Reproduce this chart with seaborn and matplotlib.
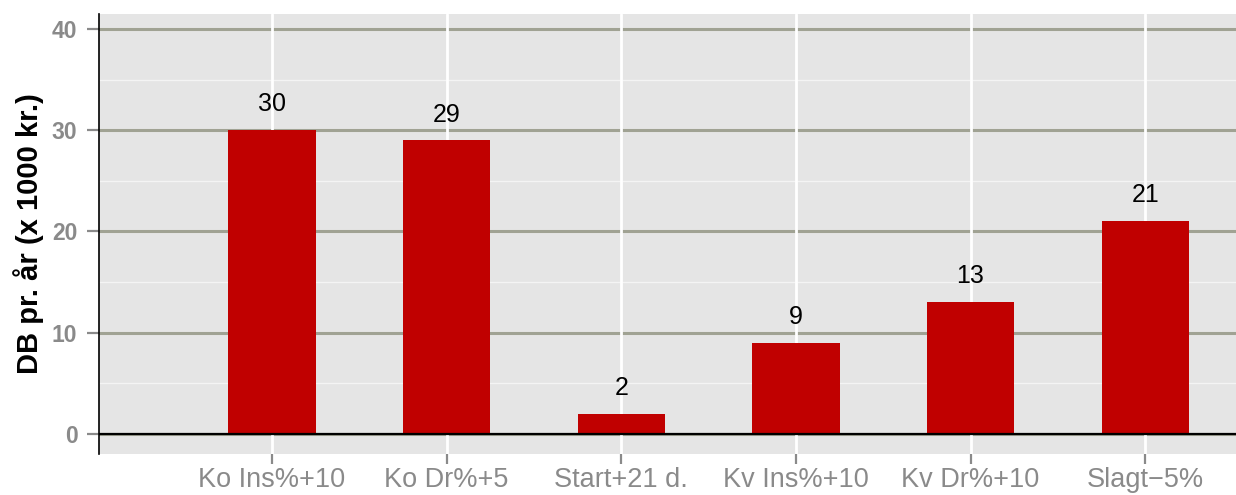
import matplotlib
matplotlib.use("Agg")
import matplotlib.pyplot as plt
import seaborn as sns
import pandas as pd

# Scenario results: contribution margin per year (x 1000 kr.)
scenarios = ["Ko Ins%+10", "Ko Dr%+5", "Start+21 d.", "Kv Ins%+10", "Kv Dr%+10", "Slagt\u22125%"]
db_values = [30, 29, 2, 9, 13, 21]
major_ticks = [0, 10, 20, 30, 40]
minor_ticks = [5, 15, 25, 35]

sns.set_theme(style="white")
plt.rcParams["font.family"] = ["Liberation Sans", "DejaVu Sans"]

df = pd.DataFrame({"scenario": scenarios, "db": db_values})

fig = plt.figure(figsize=(12.36, 4.95), dpi=100)
ax = fig.add_axes([0.0801, 0.0828, 0.9199, 0.8889])
ax.set_facecolor("#E5E5E5")
ax.set_axisbelow(True)

sns.barplot(data=df, x="scenario", y="db", order=scenarios, color="#C00000",
            saturation=1, width=0.5, linewidth=0, edgecolor="none", ax=ax, zorder=2)

# grid: grey major lines, white minor lines, white verticals at categories
ax.set_yticks(major_ticks)
ax.set_yticks(minor_ticks, minor=True)
ax.grid(which="major", axis="y", color="#A0A293", lw=2.2)
ax.grid(which="minor", axis="y", color="#F4F4F4", lw=1.0)
ax.grid(False, axis="x")
for i in range(len(scenarios)):
    ax.axvline(i, color="white", lw=2.0, zorder=0.8)

ax.axhline(0, color="black", lw=1.6, zorder=3)

for bar, v in zip(ax.patches, db_values):
    ax.annotate(f"{v}", (bar.get_x() + bar.get_width() / 2, v),
                xytext=(0, 10), textcoords="offset points",
                ha="center", va="bottom", fontsize=18, color="black")

ax.set_xlim(-0.99, 5.52)
ax.set_ylim(-2.0, 41.5)

for side in ["top", "right", "bottom"]:
    ax.spines[side].set_visible(False)
ax.spines["left"].set_color("black")
ax.spines["left"].set_linewidth(1.2)

ax.tick_params(axis="y", which="major", length=8.5, width=1.6, color="#8A8A8A",
               labelsize=16.5, labelcolor="#8A8A8A", pad=7, left=True)
ax.tick_params(axis="y", which="minor", length=0)
ax.tick_params(axis="x", length=7, width=1.6, color="#8A8A8A",
               labelsize=19.5, labelcolor="#8A8A8A", pad=2, bottom=True)
for lab in ax.get_yticklabels():
    lab.set_fontweight("bold")

ax.set_xlabel("")
ax.set_ylabel("DB pr. år (x 1000 kr.)", fontsize=21, fontweight="bold",
              color="black", labelpad=6)

fig.savefig("out.png", dpi=100)
